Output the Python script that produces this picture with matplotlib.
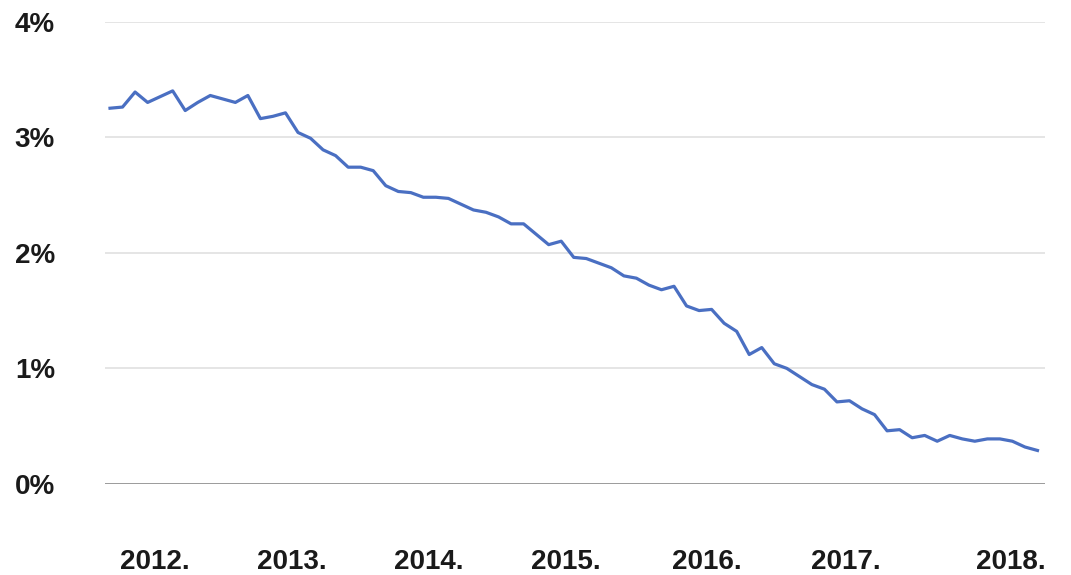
import matplotlib
matplotlib.use('Agg')
import matplotlib.pyplot as plt

# monthly values (%)
rate = [3.25, 3.26, 3.39, 3.30, 3.35, 3.40, 3.23, 3.30, 3.36, 3.33,
        3.30, 3.36, 3.16, 3.18, 3.21, 3.04, 2.99, 2.89, 2.84, 2.74,
        2.74, 2.71, 2.58, 2.53, 2.52, 2.48, 2.48, 2.47, 2.42, 2.37,
        2.35, 2.31, 2.25, 2.25, 2.16, 2.07, 2.10, 1.96, 1.95, 1.91,
        1.87, 1.80, 1.78, 1.72, 1.68, 1.71, 1.54, 1.50, 1.51, 1.39,
        1.32, 1.12, 1.18, 1.04, 1.00, 0.93, 0.86, 0.82, 0.71, 0.72,
        0.65, 0.60, 0.46, 0.47, 0.40, 0.42, 0.37, 0.42, 0.39, 0.37,
        0.39, 0.39, 0.37, 0.32, 0.29]
years = ['2012.', '2013.', '2014.', '2015.', '2016.', '2017.', '2018.']
year_pos = [3.6, 14.5, 25.4, 36.4, 47.6, 58.7, 71.9]
y_ticks = [0, 1, 2, 3, 4]

fig = plt.figure(figsize=(10.71, 5.75), dpi=100)
ax = fig.add_axes([105 / 1071, 91 / 575, 940 / 1071, 462.5 / 575])

ax.plot(range(len(rate)), rate, color='#4a6fc2', linewidth=2.3)

ax.set_xlim(-0.4, 74.6)
ax.set_ylim(0, 4)

# gridlines
for v in y_ticks:
    if v == 0:
        ax.axhline(v, color='#8a8a8a', linewidth=1.2, zorder=0)
    else:
        ax.axhline(v, color='#e0e0e0', linewidth=1.2, zorder=0)

ax.set_yticks(y_ticks)
ax.set_yticklabels([f'{v}%' for v in y_ticks], fontsize=20, fontweight='bold',
                   family='Liberation Sans', color='#1a1a1a')
ax.set_xticks(year_pos)
ax.set_xticklabels(years, fontsize=20, fontweight='bold',
                   family='Liberation Sans', color='#1a1a1a')
ax.tick_params(axis='y', length=0, pad=36)
ax.tick_params(axis='x', length=0, pad=47)

for s in ax.spines.values():
    s.set_visible(False)

fig.savefig('out.png', dpi=100)
